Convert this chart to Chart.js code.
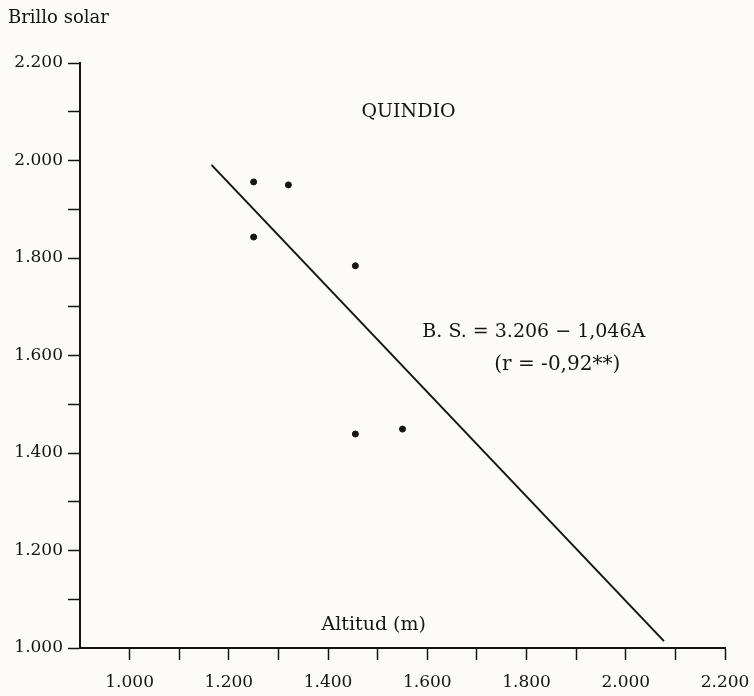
<!DOCTYPE html>
<html>
<head>
<meta charset="utf-8">
<script src="https://cdn.jsdelivr.net/npm/chart.js@4.4.0/dist/chart.umd.min.js"></script>
<style>
  html, body { margin: 0; padding: 0; background: #fcfbf8; }
  #wrap { width: 754px; height: 696px; }
</style>
</head>
<body>
<div id="wrap"><canvas id="myChart" width="754" height="696"></canvas></div>
<script>
// altitud (m) y brillo solar de las estaciones
const altitudes = [1250, 1320, 1250, 1455, 1455, 1550];
const brilloSolar = [1956, 1950, 1843, 1784, 1439, 1449];

// recta de regresion, extremos
const lineaAltitud = [1165, 2077];
const lineaBrillo = [1991, 1014];

const xTicks = [1000, 1200, 1400, 1600, 1800, 2000, 2200];
const xTickLabels = ['1.000', '1.200', '1.400', '1.600', '1.800', '2.000', '2.200'];
const yTicks = [1000, 1200, 1400, 1600, 1800, 2000, 2200];
const yTickLabels = ['1.000', '1.200', '1.400', '1.600', '1.800', '2.000', '2.200'];

const serif = "'DejaVu Serif', 'Liberation Serif', serif";
const ink = '#141414';

const textos = {
  id: 'textos',
  afterDraw: (chart) => {
    const { ctx, scales } = chart;
    const x = scales.x;
    const y = scales.y;
    ctx.save();
    ctx.fillStyle = ink;
    ctx.textBaseline = 'middle';

    ctx.font = `18px ${serif}`;
    ctx.textAlign = 'left';
    ctx.fillText('Brillo solar', 8, 18);

    ctx.font = `19px ${serif}`;
    ctx.textAlign = 'center';
    ctx.fillText('QUINDIO', x.getPixelForValue(1562), y.getPixelForValue(2100));
    ctx.fillText('Altitud (m)', x.getPixelForValue(1492), y.getPixelForValue(1047));

    ctx.textAlign = 'left';
    ctx.fillText('B. S. = 3.206 \u2212 1,046A', x.getPixelForValue(1590), y.getPixelForValue(1648));
    ctx.font = `20px ${serif}`;
    ctx.fillText('(r = -0,92**)', x.getPixelForValue(1735), y.getPixelForValue(1580));
    ctx.restore();
  },
};

const config = {
  type: 'scatter',
  data: {
    datasets: [
      {
        label: 'Estaciones',
        data: altitudes.map((a, i) => ({ x: a, y: brilloSolar[i] })),
        backgroundColor: ink,
        borderColor: ink,
        pointRadius: 3,
        pointHoverRadius: 3,
      },
      {
        label: 'Regresion',
        data: lineaAltitud.map((a, i) => ({ x: a, y: lineaBrillo[i] })),
        showLine: true,
        borderColor: ink,
        borderWidth: 2,
        pointRadius: 0,
        fill: false,
      },
    ],
  },
  options: {
    responsive: false,
    animation: false,
    layout: { padding: { top: 63, right: 29, left: 0, bottom: 0 } },
    plugins: {
      legend: { display: false },
      tooltip: { enabled: false },
    },
    scales: {
      x: {
        type: 'linear',
        min: 900,
        max: 2200,
        afterFit: (scale) => {
          scale.height = 48;
          scale.paddingLeft = 0;
          scale.paddingRight = 0;
        },
        border: { display: true, color: ink, width: 2 },
        grid: {
          drawOnChartArea: false,
          drawTicks: true,
          tickLength: 12,
          tickWidth: 1.5,
          tickColor: (c) => (c.tick && c.tick.value === 900 ? 'rgba(0,0,0,0)' : ink),
        },
        ticks: {
          stepSize: 100,
          autoSkip: false,
          maxRotation: 0,
          padding: 12,
          color: ink,
          font: { family: serif, size: 17 },
          callback: (value) => {
            const idx = xTicks.indexOf(value);
            return idx >= 0 ? xTickLabels[idx] : '';
          },
        },
      },
      y: {
        type: 'linear',
        min: 1000,
        max: 2200,
        afterFit: (scale) => {
          scale.width = 80;
          scale.paddingTop = 0;
          scale.paddingBottom = 0;
        },
        border: { display: true, color: ink, width: 2 },
        grid: {
          drawOnChartArea: false,
          drawTicks: true,
          tickLength: 12,
          tickWidth: 1.5,
          tickColor: ink,
        },
        ticks: {
          stepSize: 100,
          autoSkip: false,
          padding: 5,
          color: ink,
          font: { family: serif, size: 17 },
          callback: (value) => {
            const idx = yTicks.indexOf(value);
            return idx >= 0 ? yTickLabels[idx] : '';
          },
        },
      },
    },
  },
  plugins: [textos],
};

const myChart = new Chart(document.querySelector('#myChart'), config);
</script>
</body>
</html>
